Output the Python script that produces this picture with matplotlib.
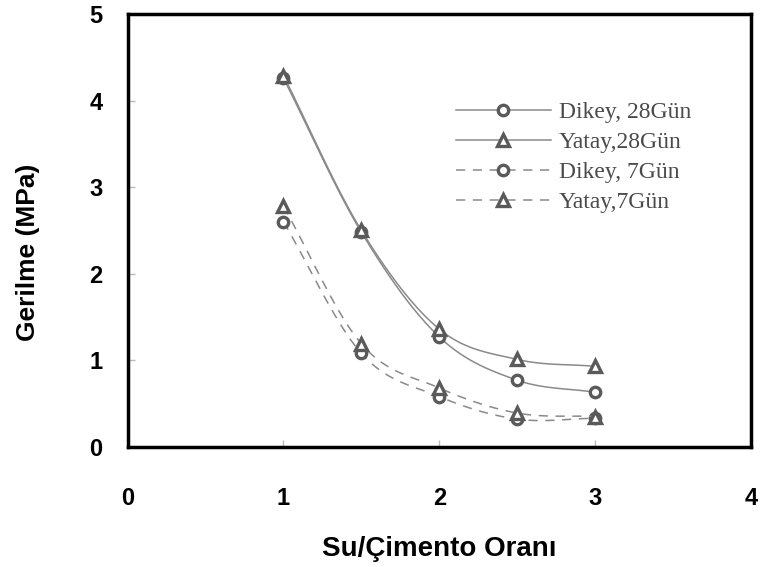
import numpy as np
import matplotlib.pyplot as plt

# water / cement ratio and measured stress (MPa)
ratio = [1.0, 1.5, 2.0, 2.5, 3.0]
dikey_28 = [4.26, 2.48, 1.27, 0.77, 0.63]
yatay_28 = [4.29, 2.50, 1.36, 1.01, 0.93]
dikey_7 = [2.60, 1.08, 0.58, 0.32, 0.33]
yatay_7 = [2.78, 1.19, 0.68, 0.39, 0.35]

labels = ["Dikey, 28Gün", "Yatay,28Gün", "Dikey, 7Gün", "Yatay,7Gün"]


def smooth(x, y, n=30):
    # Catmull-Rom spline through the measured points
    x = np.asarray(x, float)
    y = np.asarray(y, float)
    px = np.concatenate([[2 * x[0] - x[1]], x, [2 * x[-1] - x[-2]]])
    py = np.concatenate([[2 * y[0] - y[1]], y, [2 * y[-1] - y[-2]]])
    t = np.linspace(0, 1, n)
    xs, ys = [], []
    for i in range(1, len(px) - 2):
        for p, out in ((px, xs), (py, ys)):
            p0, p1, p2, p3 = p[i - 1], p[i], p[i + 1], p[i + 2]
            out.append(0.5 * ((2 * p1) + (-p0 + p2) * t
                              + (2 * p0 - 5 * p1 + 4 * p2 - p3) * t ** 2
                              + (-p0 + 3 * p1 - 3 * p2 + p3) * t ** 3))
    return np.concatenate(xs), np.concatenate(ys)


fig = plt.figure(figsize=(7.6, 5.67), dpi=100)
ax = fig.add_axes([0.168, 0.212, 0.820, 0.763])

line_grey = "#8a8a8a"
mark_grey = "#5a5a5a"
dashed = (0, (6, 5))
series = [
    (dikey_28, "-", "o", 7.5),
    (yatay_28, "-", "^", 9),
    (dikey_7, dashed, "o", 7.5),
    (yatay_7, dashed, "^", 9),
]
for (vals, ls, mk, ms), lab in zip(series, labels):
    sx, sy = smooth(ratio, vals)
    ax.plot(sx, sy, color=line_grey, linestyle=ls, linewidth=1.1)
    ax.plot(ratio, vals, linestyle="none", marker=mk, markersize=ms,
            markerfacecolor="white", markeredgecolor=mark_grey,
            markeredgewidth=2.4)
    # legend handle
    ax.plot([], [], color=line_grey, linestyle=ls, linewidth=1.1, marker=mk,
            markersize=ms, markerfacecolor="white", markeredgecolor=mark_grey,
            markeredgewidth=2.4, label=lab)

ax.set_xlim(0, 4)
ax.set_ylim(0, 5)
ax.set_xticks([0, 1, 2, 3, 4])
ax.set_yticks([0, 1, 2, 3, 4, 5])

for side in ["left", "bottom", "top", "right"]:
    ax.spines[side].set_linewidth(2.5)
    ax.spines[side].set_color("black")

ax.tick_params(axis="both", direction="in", length=5, width=1, color="#bbbbbb",
               labelsize=17)
ax.tick_params(axis="y", pad=18)
ax.tick_params(axis="x", pad=29)
for lbl in ax.get_xticklabels() + ax.get_yticklabels():
    lbl.set_fontweight("bold")
    lbl.set_family("Liberation Sans")

ax.set_xlabel("Su/Çimento Oranı", fontsize=20, fontweight="bold",
              family="Liberation Sans", labelpad=19)
ax.set_ylabel("Gerilme (MPa)", fontsize=19, fontweight="bold",
              family="Liberation Sans")
ax.yaxis.set_label_coords(-0.14, 0.45)

leg = ax.legend(loc="upper left", bbox_to_anchor=(0.508, 0.826), frameon=False,
                borderpad=0, handlelength=4.0, handletextpad=0.35,
                labelspacing=0.36,
                prop={"family": "Liberation Serif", "size": 17})
for txt in leg.get_texts():
    txt.set_color("#4a4a4a")

fig.savefig("out.png", dpi=100)
